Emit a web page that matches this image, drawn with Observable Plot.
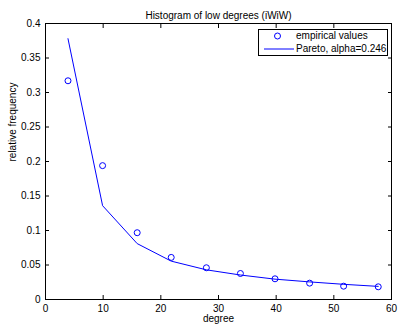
<!DOCTYPE html>
<html><head><meta charset="utf-8">
<script src="https://cdn.jsdelivr.net/npm/d3@7"></script>
<script src="https://cdn.jsdelivr.net/npm/@observablehq/plot@0.6"></script>
<style>
body{margin:0;background:#fff;font-family:"Liberation Sans",Arial,sans-serif;}
#wrap{position:relative;width:401px;height:325px;}
#legend{position:absolute;left:258px;top:29px;width:130px;height:27px;border:1px solid #000;background:#fff;font-size:10px;box-sizing:border-box;}
#legend .row{position:absolute;left:0;height:12px;line-height:12px;}
</style>
</head><body>
<div id="wrap"><div id="chart"></div>
<div id="legend">
  <svg width="40" height="27" style="position:absolute;left:0;top:0">
    <circle cx="18.5" cy="6" r="3" fill="none" stroke="#0000ff" stroke-width="1"/>
    <line x1="5" x2="35" y1="19" y2="19" stroke="#0000ff" stroke-width="1"/>
  </svg>
  <div class="row" style="left:37px;top:0px">empirical values</div>
  <div class="row" style="left:37px;top:13px">Pareto, alpha=0.246</div>
</div>
</div>
<script>
const degrees = [3.9, 9.9, 15.9, 21.8, 27.9, 33.8, 39.8, 45.8, 51.7, 57.7];
const empirical = [0.317, 0.194, 0.0968, 0.061, 0.046, 0.0377, 0.030, 0.0237, 0.0193, 0.0184];
const pareto = [0.378, 0.136, 0.081, 0.0556, 0.043, 0.0355, 0.0295, 0.0255, 0.022, 0.019];
const xTicks = [0, 10, 20, 30, 40, 50, 60];
const yTicks = [0, 0.05, 0.1, 0.15, 0.2, 0.25, 0.3, 0.35, 0.4];
const title = "Histogram of low degrees (iWiW)";

const pts = degrees.map((d, i) => ({x: d, y: empirical[i]}));
const line = degrees.map((d, i) => ({x: d, y: pareto[i]}));
const fmt = d => d === 0 ? "0" : String(d);

const chart = Plot.plot({
  width: 401, height: 325,
  marginLeft: 45, marginRight: 10, marginTop: 23, marginBottom: 26,
  style: {fontFamily: "'Liberation Sans', Arial, sans-serif", fontSize: "10px", color: "#000", background: "#fff"},
  x: {domain: [0, 60]},
  y: {domain: [0, 0.4]},
  marks: [
    Plot.axisX(xTicks, {anchor: "bottom", tickSize: 0, tickPadding: 5, tickFormat: fmt, label: null, fontSize: 10}),
    Plot.axisX(xTicks, {anchor: "bottom", tickSize: -4, tickFormat: () => "", label: null}),
    Plot.axisX(xTicks, {anchor: "top", tickSize: -4, tickFormat: () => "", label: null}),
    Plot.axisY(yTicks, {anchor: "left", tickSize: 0, tickPadding: 5, tickFormat: fmt, label: null, fontSize: 10}),
    Plot.axisY(yTicks, {anchor: "left", tickSize: -4, tickFormat: () => "", label: null}),
    Plot.axisY(yTicks, {anchor: "right", tickSize: -4, tickFormat: () => "", label: null}),
    Plot.line(line, {x: "x", y: "y", stroke: "#0000ff", strokeWidth: 1}),
    Plot.dot(pts, {x: "x", y: "y", r: 3, stroke: "#0000ff", strokeWidth: 1, fill: "none"}),
    Plot.frame({stroke: "#000", strokeWidth: 1}),
    Plot.text([title], {frameAnchor: "top", dy: -12, text: d => d, fontSize: 10}),
    Plot.text(["degree"], {frameAnchor: "bottom", dy: 22.5, text: d => d, fontSize: 10}),
    Plot.text(["relative frequency"], {frameAnchor: "left", dx: -33, rotate: -90, text: d => d, fontSize: 10})
  ]
});
document.getElementById("chart").appendChild(chart);
</script>
</body></html>
